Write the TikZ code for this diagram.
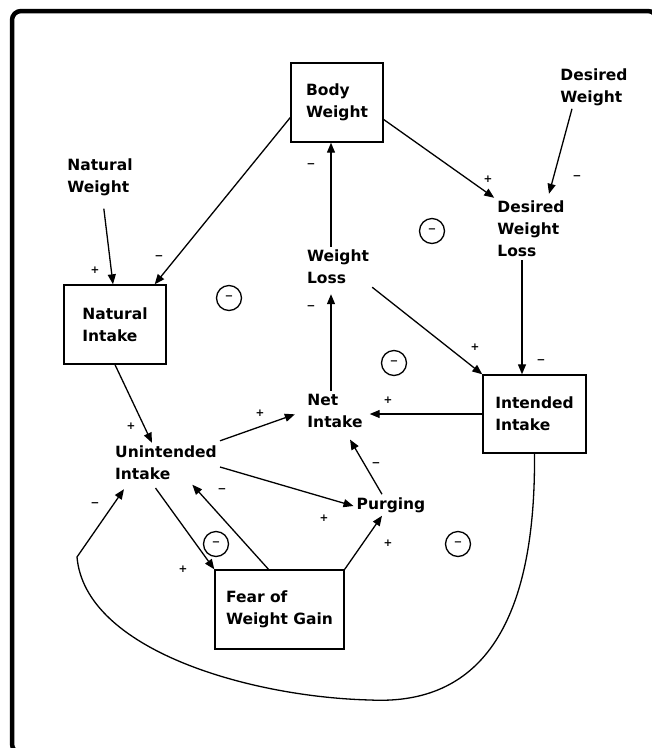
\documentclass[tikz,border=0pt]{standalone}
\usepackage{fontspec}
\setmainfont{DejaVu Sans}
\usetikzlibrary{arrows.meta,positioning,calc}

\begin{document}
\begin{tikzpicture}[x=1pt, y=-1pt,
  stock/.style={draw, line width=1.4pt, minimum height=79pt, align=left, font=\fontsize{15.5}{22}\selectfont\bfseries},
  aux/.style={align=left, inner sep=3pt, font=\fontsize{15.5}{22}\selectfont\bfseries},
  arr/.style={-{Triangle[length=10pt, width=8pt]}, line width=1.3pt},
  sgn/.style={font=\fontsize{10.5}{10.5}\selectfont\bfseries, inner sep=1pt},
  loopmark/.style={draw, circle, line width=1.3pt, minimum size=25pt, inner sep=0pt, font=\fontsize{10}{10}\selectfont\bfseries}
]
  \useasboundingbox (0,0) rectangle (652,748);
  \draw[line width=4.5pt, rounded corners=9pt] (12,11) rectangle (657,753);

  % stocks and auxiliaries
  \node[stock, minimum width=92pt] (bodyw) at (337,102.5) {Body\\Weight};
  \node[aux] (desw) at (594,87) {Desired\\Weight};
  \node[aux] (natw) at (100,177) {Natural\\Weight};
  \node[stock, minimum width=102pt] (natint) at (115,324.5) {Natural\\Intake};
  \node[aux] (dwl) at (531,229) {Desired\\Weight\\Loss};
  \node[aux] (wloss) at (338,267) {Weight\\Loss};
  \node[aux] (netint) at (335,411) {Net\\Intake};
  \node[stock, minimum width=103pt, minimum height=78pt] (intint) at (534.5,414) {Intended\\Intake};
  \node[aux] (unint) at (166,463) {Unintended\\Intake};
  \node[aux] (purge) at (391,505) {Purging};
  \node[stock, minimum width=129pt] (fear) at (279.5,609.5) {Fear of\\Weight Gain};

  \coordinate (low) at (370,700);
  \coordinate (bend) at (77,557);

  % links
  \draw[arr] ([yshift=-15pt]bodyw.west) -- ([xshift=-12pt]natint.north east);
  \draw[arr, shorten <=10pt] (natw) -- ([xshift=-2pt]natint.north);
  \draw[arr] ([yshift=-17pt]bodyw.east) -- (dwl.north west);
  \draw[arr] ([xshift=-22pt]desw.south) -- ([xshift=18pt, yshift=4pt]dwl.north);
  \draw[arr] ([xshift=-7pt]wloss.north) -- ([xshift=-6pt]bodyw.south);
  \draw[arr, shorten >=7pt] ([xshift=-4pt]netint.north) -- ([xshift=-7pt]wloss.south);
  \draw[arr] (wloss.south east) -- (intint.north west);
  \draw[arr] ([xshift=-9pt]dwl.south) -- ([xshift=-9pt]dwl.south |- intint.north);
  \draw[arr, shorten >=4pt] (intint.west) -- (intint.west -| netint.east);
  \draw[arr] (natint.south) -- ([xshift=-14pt]unint.north);
  \draw[arr, shorten >=10pt] ([yshift=2pt]unint.north east) -- (netint.west);
  \draw[arr] ([yshift=-4pt]unint.east) -- ([yshift=-1pt]purge.west);
  \draw[arr, shorten >=10pt] ([xshift=-9pt]purge.north) -- ([xshift=10pt]netint.south);
  \draw[arr, shorten <=6pt] ([xshift=-14pt]unint.south) -- (fear.north west);
  \draw[arr, shorten >=2pt] ([xshift=-11pt]fear.north) -- ([xshift=25pt]unint.south);
  \draw[arr] (fear.north east) -- ([xshift=-9pt]purge.south);
  \draw[arr] (intint.south) .. controls (536,640) and (470,705) .. (low)
    .. controls (250,697) and (85,650) .. (bend) -- ([xshift=12pt, yshift=-6pt]unint.south west);

  % polarities
  \node[sgn] (s1) at (159,258) {−};
  \node[sgn] (s2) at (95,270) {+};
  \node[sgn] (s3) at (488,179) {+};
  \node[sgn] (s4) at (577,178) {−};
  \node[sgn] (s5) at (311,166) {−};
  \node[sgn] (s6) at (311,308) {−};
  \node[sgn] (s7) at (475,347) {+};
  \node[sgn] (s8) at (541,362) {−};
  \node[sgn] (s9) at (388,400) {+};
  \node[sgn] (s10) at (131,426) {+};
  \node[sgn] (s11) at (260,413) {+};
  \node[sgn] (s12) at (324,518) {+};
  \node[sgn] (s13) at (376,465) {−};
  \node[sgn] (s14) at (183,569) {+};
  \node[sgn] (s15) at (222,491) {−};
  \node[sgn] (s16) at (388,543) {+};
  \node[sgn] (s17) at (95,505) {−};

  % loop markers
  \node[loopmark] (l1) at (229,298) {−};
  \node[loopmark] (l2) at (432,231) {−};
  \node[loopmark] (l3) at (394,363) {−};
  \node[loopmark] (l4) at (216,544) {−};
  \node[loopmark] (l5) at (458,544) {−};
\end{tikzpicture}
\end{document}
